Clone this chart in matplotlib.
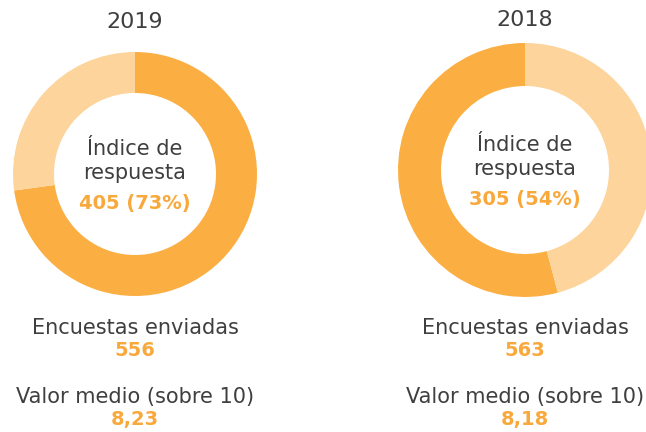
import matplotlib.pyplot as plt

# survey figures per year
years = ["2019", "2018"]
sent = [556, 563]
responded = [405, 305]
pct = [73, 54]
mean_score = ["8,23", "8,18"]

DARK = "#FBAE42"
LIGHT = "#FDD49C"
GREY = "#3f3f3f"
ORANGE = "#F9A93C"

plt.rcParams["font.family"] = ["DejaVu Sans"]

W, H = 646, 432
fig = plt.figure(figsize=(W / 100, H / 100), dpi=100)
ax = fig.add_axes([0, 0, 1, 1])

# donut layout: centre x, centre y (pixels from top), outer radius, ring width, direction
layout = [
    (135, 174, 122, 41, False, 22),
    (525, 170, 127, 43, True, 20),
]

for i, (cx, cy, r, w, ccw, ty) in enumerate(layout):
    yc = H - cy
    ax.pie([responded[i], sent[i] - responded[i]], colors=[DARK, LIGHT],
           startangle=90, counterclock=ccw, center=(cx, yc), radius=r,
           wedgeprops=dict(width=w, linewidth=0), frame=True)
    ax.text(cx, H - ty, years[i], ha="center", va="center", fontsize=16, color=GREY)
    ax.text(cx, yc + 25, "Índice de", ha="center", va="center", fontsize=15, color=GREY)
    ax.text(cx, yc + 1, "respuesta", ha="center", va="center", fontsize=15, color=GREY)
    ax.text(cx, yc - 30, f"{responded[i]} ({pct[i]}%)", ha="center", va="center",
            fontsize=14, color=ORANGE, fontweight="semibold")
    ax.text(cx, H - 328, "Encuestas enviadas", ha="center", va="center", fontsize=15, color=GREY)
    ax.text(cx, H - 351, str(sent[i]), ha="center", va="center", fontsize=14,
            color=ORANGE, fontweight="semibold")
    ax.text(cx, H - 397, "Valor medio (sobre 10)", ha="center", va="center", fontsize=15, color=GREY)
    ax.text(cx, H - 419, mean_score[i], ha="center", va="center", fontsize=14,
            color=ORANGE, fontweight="semibold")

ax.set_xlim(0, W)
ax.set_ylim(0, H)
ax.set_aspect("auto")
ax.axis("off")

fig.savefig("out.png", dpi=100)
